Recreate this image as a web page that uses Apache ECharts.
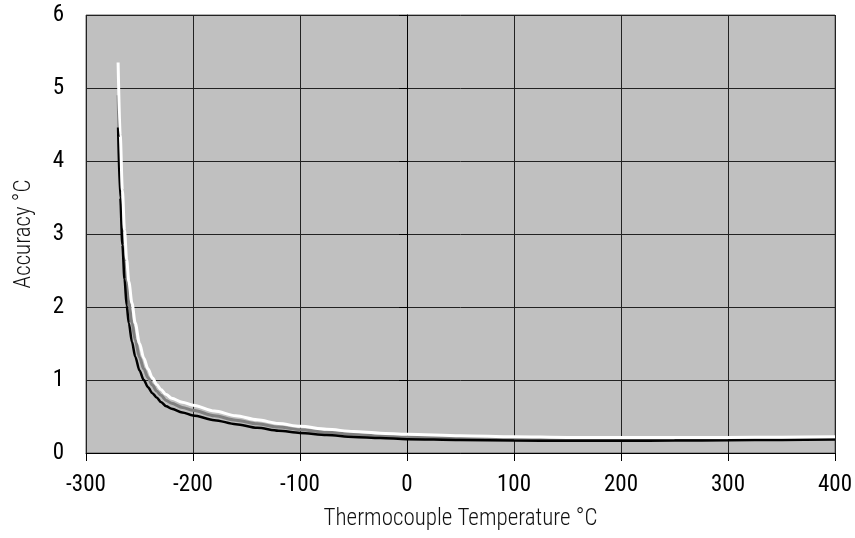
<!DOCTYPE html>
<html>
<head>
<meta charset="utf-8">
<script src="https://cdn.jsdelivr.net/npm/echarts@6/dist/echarts.min.js"></script>
<style>html,body{margin:0;padding:0;background:#fff}#c{width:855px;height:538px}</style>
</head>
<body>
<div id="c"></div>
<script>
var temps = [-270,-268,-266,-264,-262,-260,-257,-254,-250,-246,-242,-238,-234,-230,-225,-220,-210,-200,-180,-160,-140,-120,-100,-75,-50,-25,0,50,100,150,200,250,300,350,400];
var blackVals = [4.46,3.5,2.85,2.38,2.02,1.78,1.52,1.32,1.13,1.0,0.9,0.82,0.76,0.7,0.64,0.605,0.555,0.515,0.45,0.395,0.345,0.305,0.275,0.245,0.22,0.205,0.19,0.177,0.171,0.168,0.168,0.17,0.174,0.179,0.185];
var grayVals = [4.9,3.95,3.22,2.72,2.33,2.06,1.78,1.55,1.31,1.15,1.03,0.93,0.85,0.79,0.72,0.68,0.625,0.585,0.51,0.45,0.4,0.355,0.32,0.285,0.257,0.237,0.224,0.207,0.196,0.19,0.188,0.189,0.192,0.196,0.2];
var whiteVals = [5.35,4.35,3.6,3.05,2.65,2.35,2.05,1.78,1.5,1.3,1.15,1.03,0.94,0.87,0.8,0.75,0.695,0.655,0.575,0.51,0.455,0.405,0.365,0.325,0.295,0.272,0.258,0.237,0.222,0.214,0.211,0.211,0.213,0.217,0.222];
var xTicks = [-300,-200,-100,0,100,200,300,400];
var yTicks = [0,1,2,3,4,5,6];

function pairs(v){ return temps.map(function(t,i){ return [t, v[i]]; }); }
var labelFont = "'Roboto Condensed',Roboto,sans-serif";

var chart = echarts.init(document.getElementById('c'));
chart.setOption({
  animation: false,
  grid: {left: 86, right: 20, top: 15, bottom: 85, containLabel: false, outerBoundsMode: 'none',
         show: true, backgroundColor: '#c0c0c0', borderColor: '#666', borderWidth: 1},
  xAxis: {
    type: 'value', min: xTicks[0], max: xTicks[xTicks.length-1], interval: 100,
    name: 'Thermocouple Temperature °C', nameLocation: 'middle', nameGap: 55,
    nameTextStyle: {fontFamily: labelFont, fontSize: 23, fontWeight: 300, color: '#111'},
    axisLine: {show: true, onZero: false, lineStyle: {color: '#000', width: 1}},
    axisTick: {show: true, length: 8, lineStyle: {color: '#000'}},
    axisLabel: {fontFamily: labelFont, fontSize: 23, color: '#000', margin: 21},
    splitLine: {show: true, lineStyle: {color: '#222', width: 1}}
  },
  yAxis: {
    type: 'value', min: yTicks[0], max: yTicks[yTicks.length-1], interval: 1,
    name: 'Accuracy °C', nameLocation: 'middle', nameGap: 50, nameRotate: 90,
    nameTextStyle: {fontFamily: labelFont, fontSize: 23, fontWeight: 300, color: '#111'},
    axisLine: {show: true, lineStyle: {color: '#000', width: 1}},
    axisTick: {show: true, length: 8, lineStyle: {color: '#000'}},
    axisLabel: {fontFamily: labelFont, fontSize: 23, color: '#000', margin: 22},
    splitLine: {show: true, lineStyle: {color: '#222', width: 1}}
  },
  series: [
    {type: 'line', data: pairs(grayVals), showSymbol: false, smooth: 0.3, smoothMonotone: 'x', lineStyle: {color: '#808080', width: 3}, z: 2},
    {type: 'line', data: pairs(blackVals), showSymbol: false, smooth: 0.3, smoothMonotone: 'x', lineStyle: {color: '#000', width: 2.5}, z: 3},
    {type: 'line', data: pairs(whiteVals), showSymbol: false, smooth: 0.3, smoothMonotone: 'x', lineStyle: {color: '#fff', width: 3}, z: 4}
  ]
});
</script>
</body>
</html>
